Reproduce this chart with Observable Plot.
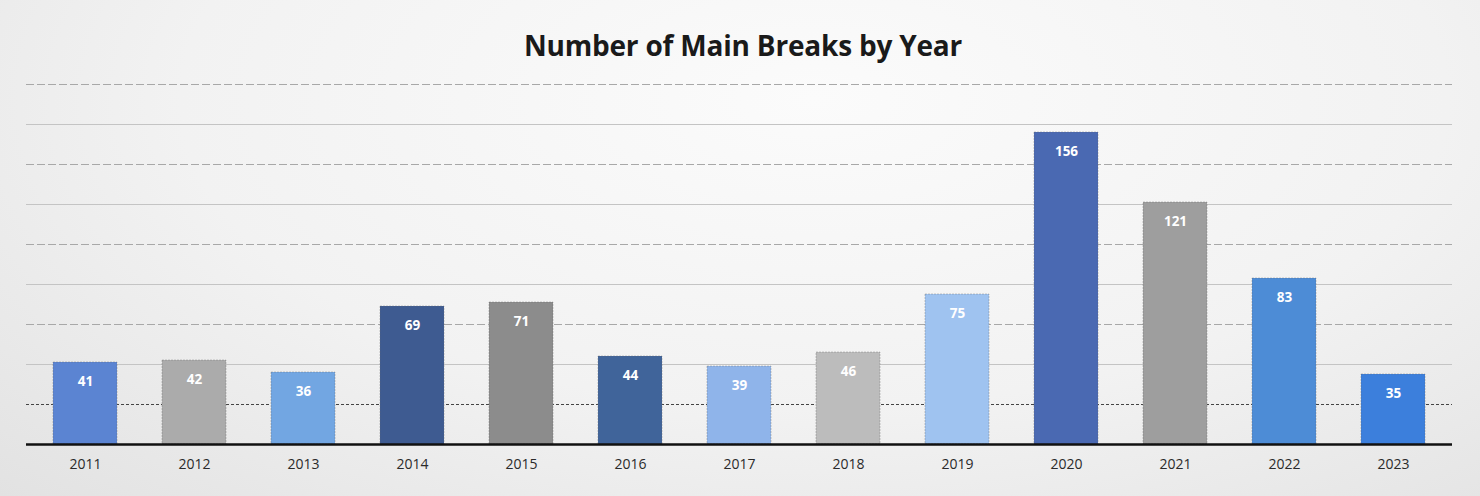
<!DOCTYPE html>
<html>
<head>
<meta charset="utf-8">
<script src="https://cdn.jsdelivr.net/npm/d3@7"></script>
<script src="https://cdn.jsdelivr.net/npm/@observablehq/plot@0.6"></script>
<style>
  html, body { margin: 0; padding: 0; }
  body {
    width: 1480px; height: 496px; overflow: hidden;
    background: radial-gradient(ellipse at 55% 20%, #fbfbfb 0%, #f2f2f2 55%, #e2e2e2 100%);
    font-family: "Open Sans", "DejaVu Sans", sans-serif;
  }
  #title {
    height: 80px; line-height: 90px; text-align: center;
    font-size: 28px; font-weight: 700; color: #1a1a1a;
    padding-left: 6px; letter-spacing: -0.2px;
  }
</style>
</head>
<body>
<div id="title">Number of Main Breaks by Year</div>
<div id="chart"></div>
<script>
const years = ["2011","2012","2013","2014","2015","2016","2017","2018","2019","2020","2021","2022","2023"];
const breaks = [41, 42, 36, 69, 71, 44, 39, 46, 75, 156, 121, 83, 35];
const barColors = ["#5b84d2","#ababab","#72a6e2","#3e5b91","#8c8c8c","#40649a","#8fb4ea","#bcbcbc","#9fc3f0","#4a69b2","#9e9e9e","#4d8cd6","#3c7fdc"];
const solidGrid = [40, 80, 120, 160];
const dashedGrid = [60, 100, 140, 180];
const dottedGrid = [20];

const data = years.map((y, i) => ({year: y, value: breaks[i], color: barColors[i]}));

const chart = Plot.plot({
  width: 1480,
  height: 416,
  marginTop: 4,
  marginBottom: 52,
  marginLeft: 26,
  marginRight: 28,
  style: {background: "transparent", fontFamily: "'Open Sans', sans-serif"},
  x: {domain: years, paddingInner: 0.41, paddingOuter: 0.206, label: null},
  y: {domain: [0, 180], axis: null},
  marks: [
    Plot.ruleY(solidGrid, {stroke: "#c4c4c4", strokeWidth: 1.2}),
    Plot.ruleY(dashedGrid, {stroke: "#a8a8a8", strokeWidth: 1, strokeDasharray: "8,3"}),
    Plot.ruleY(dottedGrid, {stroke: "#444", strokeWidth: 1.2, strokeDasharray: "3,2"}),
    Plot.barY(data, {x: "year", y: "value", fill: "color", stroke: "#666", strokeOpacity: 0.35, strokeWidth: 1, strokeDasharray: "2,1"}),
    Plot.text(data, {x: "year", y: "value", text: d => String(d.value), dy: 19, fill: "white", fontWeight: "bold", fontSize: 13.5}),
    Plot.ruleY([0], {stroke: "#111", strokeWidth: 2.5}),
    Plot.axisX({tickSize: 0, tickPadding: 15, fontSize: 14, color: "#2a2a2a", label: null})
  ]
});
document.getElementById("chart").appendChild(chart);
</script>
</body>
</html>
